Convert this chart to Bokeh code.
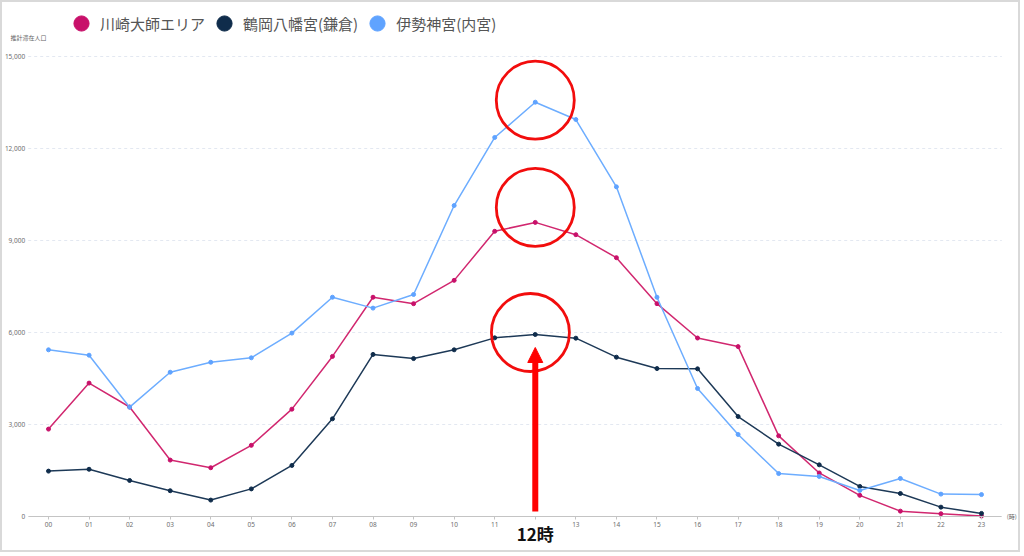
from bokeh.plotting import figure
from bokeh.models import (Range1d, FixedTicker, Legend, LegendItem,
                          Label, Arrow, NormalHead)
from bokeh.core.properties import value
from bokeh.embed import file_html
from bokeh.resources import INLINE

# ---------------- data ----------------
hour_labels = ["00", "01", "02", "03", "04", "05", "06", "07", "08", "09", "10", "11",
               "12", "13", "14", "15", "16", "17", "18", "19", "20", "21", "22", "23"]
hours = list(range(len(hour_labels)))

series_names = ["川崎大師エリア", "鶴岡八幡宮(鎌倉)", "伊勢神宮(内宮)"]

kawasaki = [2850, 4350, 3570, 1840, 1590, 2320, 3500, 5220, 7150, 6940, 7700, 9300,
            9590, 9190, 8440, 6940, 5820, 5540, 2630, 1420, 690, 175, 90, 15]
tsurugaoka = [1480, 1540, 1175, 840, 535, 900, 1665, 3185, 5285, 5150, 5435, 5825,
              5935, 5815, 5195, 4825, 4815, 3260, 2360, 1685, 980, 750, 305, 100]
ise = [5435, 5260, 3565, 4705, 5030, 5175, 5980, 7150, 6795, 7240, 10140, 12360,
       13510, 12945, 10750, 7150, 4175, 2675, 1400, 1305, 850, 1240, 730, 715]

y_ticks = [0, 3000, 6000, 9000, 12000, 15000]
y_tick_labels = ["0", "3,000", "6,000", "9,000", "12,000", "15,000"]
y_title = "推計滞在人口"
x_unit = "(時)"
highlight_hour = 12
highlight_text = "12時"

# ---------------- layout / styles ----------------
W, H = 1020, 552                 # canvas (inside a 2px border)
X0_PX, XSTEP_PX = 46, 40.565     # pixel of first hour, pixels per hour
Y0_PX, YSPAN_PX = 514, 460       # pixel of value 0, pixels for full tick span
line_colors = ["#d1276f", "#1d3957", "#6dadff"]
point_colors = ["#c8106a", "#0f2c4b", "#5fa3ff"]
JP = "Noto Sans CJK JP"
TICK_COLOR = "#6e6e6e"

Y_MAX = y_ticks[-1]
px = Y_MAX / YSPAN_PX            # data units per pixel (y)
x_lo = -X0_PX / XSTEP_PX
x_hi = hours[-1] + (W - (X0_PX + hours[-1] * XSTEP_PX)) / XSTEP_PX
y_lo = -(H - Y0_PX) * px
y_hi = Y_MAX + (Y0_PX - YSPAN_PX) * px
x_left_edge = -0.5
x_right_edge = hours[-1] + 0.5

p = figure(width=W, height=H, output_backend="svg", toolbar_location=None,
           x_range=Range1d(x_lo, x_hi), y_range=Range1d(y_lo, y_hi),
           min_border=0)
p.styles = {"border": "2px solid #d9d9d9"}
p.outline_line_color = None
p.background_fill_color = "white"
p.border_fill_color = "white"
p.xgrid.visible = False
p.ygrid.visible = False

# dashed horizontal grid lines across the hour span
n = len(y_ticks)
p.segment(x0=[x_left_edge] * n, y0=y_ticks, x1=[x_right_edge] * n, y1=y_ticks,
          line_color="#e3e8f1", line_dash="3 3", line_width=1, level="underlay")

# y tick labels (left of the hour span)
p.text(x=[x_left_edge] * n, y=y_ticks, text=y_tick_labels, x_offset=-3,
       text_align="right", text_baseline="middle", text_font=value("Noto Sans"),
       text_font_size="6.5px", text_color=TICK_COLOR)
p.yaxis.visible = False

xax = p.xaxis[0]
xax.fixed_location = 0
xax.bounds = (x_left_edge, x_right_edge)
xax.ticker = FixedTicker(ticks=hours)
xax.major_label_overrides = {h: ("" if h == highlight_hour else lab)
                             for h, lab in zip(hours, hour_labels)}
xax.axis_line_color = "#c4c4c4"
xax.major_tick_line_color = "#c4c4c4"
xax.major_tick_out = 3
xax.major_tick_in = 0
xax.minor_tick_line_color = None
xax.major_label_text_font_size = "6.5px"
xax.major_label_text_color = TICK_COLOR
xax.major_label_text_font = "Noto Sans"
xax.major_label_standoff = 2

items = []
for name, ys, lc, pc in zip(series_names, [kawasaki, tsurugaoka, ise], line_colors, point_colors):
    p.line(hours, ys, line_color=lc, line_width=1.5)
    r = p.scatter(hours, ys, marker="circle", size=4, fill_color=pc, line_color=pc)
    items.append(LegendItem(label=name, renderers=[r]))

GLYPH_W, GLYPH_H = 38, 42
legend = Legend(items=items, orientation="horizontal", location=(60, H - GLYPH_H),
                glyph_width=GLYPH_W, glyph_height=GLYPH_H, label_standoff=0, spacing=0,
                padding=0, margin=0, border_line_color=None, background_fill_alpha=0,
                label_text_font=JP, label_text_font_size="15px", label_text_color="#555555")
p.add_layout(legend)

# highlight circles around the 12:00 values
peak_vals = [ise[highlight_hour], kawasaki[highlight_hour], tsurugaoka[highlight_hour]]
circle_y = [peak_vals[0] + 2 * px, peak_vals[1] + 15 * px, peak_vals[2] + 2 * px]
circle_x = [highlight_hour, highlight_hour, highlight_hour - 0.12]
p.scatter(circle_x, circle_y, marker="circle", size=78, fill_color=None,
          line_color="#f20d0d", line_width=2.8)

# arrow up to the 12:00 value
tip = tsurugaoka[highlight_hour] - 13 * px
base = tip - 14 * px
start = 5 * px
p.segment(x0=[highlight_hour], y0=[start], x1=[highlight_hour], y1=[base],
          line_color="#ff0000", line_width=6)
p.add_layout(Arrow(x_start=highlight_hour, y_start=start, x_end=highlight_hour, y_end=tip,
                   line_alpha=0,
                   end=NormalHead(size=15, fill_color="#ff0000", line_color="#ff0000", line_width=1)))

p.add_layout(Label(x=highlight_hour, y=0, y_offset=-17, text=highlight_text,
                   text_align="center", text_baseline="middle", text_font=JP,
                   text_font_size="17px", text_font_style="bold", text_color="#111111"))

p.add_layout(Label(x=8, y=H - 35, x_units="screen", y_units="screen", text=y_title,
                   text_font=JP, text_font_size="6px", text_color="#666666",
                   text_baseline="middle", text_align="left"))
p.add_layout(Label(x=x_right_edge, y=0, x_offset=5, text=x_unit, text_font=JP,
                   text_font_size="6px", text_color="#666666", text_baseline="middle",
                   text_align="left"))

open("out.html", "w").write(file_html(p, INLINE))
